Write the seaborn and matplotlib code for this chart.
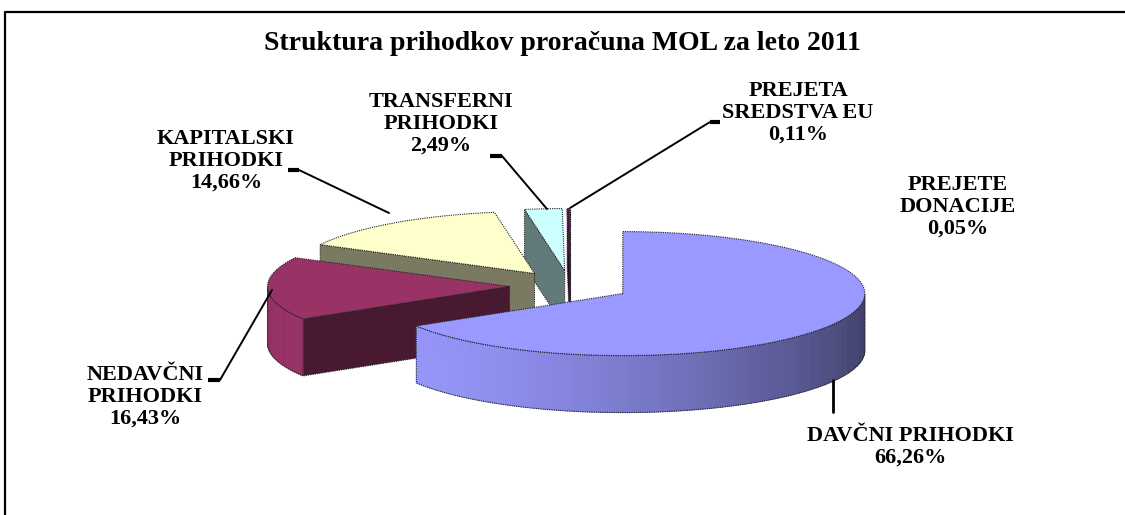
"""
Struktura prihodkov proracuna MOL za leto 2011 - 3D exploded pie
"""

import numpy as np
import pandas as pd
import seaborn as sns
import matplotlib.pyplot as plt
from matplotlib.patches import Polygon
from matplotlib.colors import to_rgb

# Data

labels = ['DAVČNI PRIHODKI', 'NEDAVČNI\nPRIHODKI', 'KAPITALSKI\nPRIHODKI',
          'TRANSFERNI\nPRIHODKI', 'PREJETA\nSREDSTVA EU', 'PREJETE\nDONACIJE']
shares = [66.26, 16.43, 14.66, 2.49, 0.11, 0.05]
colors = ['#9999FF', '#993366', '#FFFFCC', '#CCFFFF', '#660066', '#FF8080']

df = pd.DataFrame({'label': labels, 'share': shares, 'color': colors})

# Layout (pixel coordinates, y pointing down)

CX, CY = 570, 286      # pie centre
RX, RY = 242, 62       # ellipse radii of the tilted pie
DEPTH = 57             # thickness of the pie
EXPLODE = 0.25         # explode distance as fraction of radius

label_xy = [(910, 447), (145, 397), (226, 161), (441, 124), (798, 113), (958, 207)]
leaders = [[(833, 380), (833, 412)],
           [(208, 380), (220, 380), (272, 290)],
           [(288, 170), (299, 170), (389, 213)],
           [(490, 156), (502, 156), (547, 209)],
           [(720, 122), (710, 122), (570, 208)],
           []]

sns.set_style('white')
plt.rcParams['font.family'] = ['Liberation Serif', 'DejaVu Serif']

fig = plt.figure(figsize=(11.25, 5.15), dpi=100)
ax = fig.add_axes([0, 0, 1, 1])
ax.set_xlim(0, 1125)
ax.set_ylim(515, 0)
ax.axis('off')

# Slice angles (start at 12 o'clock, clockwise)

frac = df['share'] / df['share'].sum()
a_lo = 90 - frac.cumsum() * 360
a_hi = a_lo + frac * 360
df['a_lo'] = a_lo
df['a_hi'] = a_hi
df['mid'] = (a_lo + a_hi) / 2


def rim(cx, cy, th):
    t = np.radians(th)
    return cx + RX * np.cos(t), cy - RY * np.sin(t)


def shade(th):
    return np.clip(0.68 + 0.3 * np.cos(np.radians(th - 205)), 0, 1)


EDGE = dict(edgecolor='#222222', linewidth=0.8, linestyle=(0, (1, 1)))

order = np.argsort(-np.sin(np.radians(df['mid'].values)))
for i in order:
    row = df.iloc[i]
    base = np.array(to_rgb(row['color']))
    m = np.radians(row['mid'])
    ox = CX + EXPLODE * RX * np.cos(m)
    oy = CY - EXPLODE * RY * np.sin(m)

    # radial side walls facing the viewer
    for a, visible in ((row['a_hi'], np.cos(np.radians(row['a_hi'])) < 0),
                       (row['a_lo'], np.cos(np.radians(row['a_lo'])) > 0)):
        if visible:
            px, py = rim(ox, oy, a)
            ax.add_patch(Polygon([(ox, oy), (px, py), (px, py + DEPTH), (ox, oy + DEPTH)],
                                 closed=True, facecolor=base * 0.48, **EDGE))

    # outer curved wall (front half only)
    n = max(int(abs(row['a_hi'] - row['a_lo'])) + 2, 3)
    th = np.linspace(row['a_lo'], row['a_hi'], n)
    front = np.sin(np.radians(th)) <= 1e-9
    if front.sum() >= 2:
        tf = th[front]
        xs, ys = rim(ox, oy, tf)
        for k in range(len(tf) - 1):
            c = base * shade((tf[k] + tf[k + 1]) / 2)
            ax.add_patch(Polygon([(xs[k], ys[k]), (xs[k + 1], ys[k + 1]),
                                  (xs[k + 1], ys[k + 1] + DEPTH), (xs[k], ys[k] + DEPTH)],
                                 closed=True, facecolor=c, edgecolor=c, linewidth=0.6))
        outline = list(zip(xs, ys)) + list(zip(xs[::-1], ys[::-1] + DEPTH))
        ax.add_patch(Polygon(outline, closed=True, fill=False, **EDGE))

    # top face
    xs, ys = rim(ox, oy, th)
    ax.add_patch(Polygon([(ox, oy)] + list(zip(xs, ys)), closed=True,
                         facecolor=base, **EDGE))

# Labels and leader lines

for i, row in df.iterrows():
    pct = f"{row['share']:.2f}".replace('.', ',') + '%'
    x, y = label_xy[i]
    ax.text(x, y, row['label'] + '\n' + pct, ha='center', va='center', color='black',
            fontsize=16, fontweight='bold', linespacing=1.12)
    pts = leaders[i]
    if len(pts) == 3:
        ax.plot([pts[0][0], pts[1][0]], [pts[0][1], pts[1][1]], color='black', lw=3,
                solid_capstyle='butt')
        ax.plot([pts[1][0], pts[2][0]], [pts[1][1], pts[2][1]], color='black', lw=1.4)
    elif len(pts) == 2:
        ax.plot([pts[0][0], pts[1][0]], [pts[0][1], pts[1][1]], color='black', lw=2)

ax.text(562, 44, 'Struktura prihodkov proračuna MOL za leto 2011', ha='center',
        va='center', fontsize=20, fontweight='bold', color='black')

# Chart frame
ax.plot([5, 5, 1125], [515, 12, 12], color='black', lw=1.6)

plt.savefig('out.png', dpi=100)
